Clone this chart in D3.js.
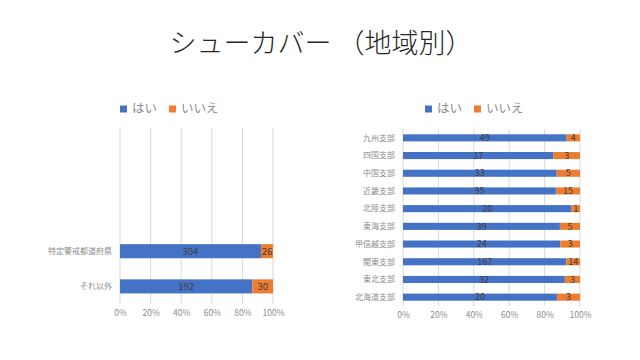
<!DOCTYPE html>
<html><head><meta charset="utf-8">
<script src="https://cdn.jsdelivr.net/npm/d3@7"></script>
<style>
body{margin:0;background:#fff;}
text{font-family:"Noto Sans CJK JP","Noto Sans",sans-serif;}
</style></head>
<body><svg id="c" width="640" height="360"></svg>
<script>
const title = "シューカバー （地域別）";
const seriesNames = ["はい", "いいえ"];
const colors = ["#4472C4", "#ED7D31"];
const leftSlots = ["_a", "_b", "_c", "特定警戒都道府県", "それ以外"];
const leftCats = ["特定警戒都道府県", "それ以外"];
const leftYes = [304, 192];
const leftNo = [26, 30];
const rightCats = ["九州支部","四国支部","中国支部","近畿支部","北陸支部","東海支部","甲信越支部","関東支部","東北支部","北海道支部"];
const rightYes = [49, 17, 33, 95, 20, 39, 24, 167, 32, 20];
const rightNo = [4, 3, 5, 15, 1, 5, 3, 14, 3, 3];
const tickVals = [0, 0.2, 0.4, 0.6, 0.8, 1.0];

const svg = d3.select("#c");
svg.append("rect").attr("width",640).attr("height",360).attr("fill","#fff");
svg.append("text").attr("x",321).attr("y",53).attr("text-anchor","middle")
  .attr("font-size",27).attr("font-weight",300).attr("fill","#262626").text(title);

function chart(cfg){
  const g = svg.append("g");
  const x = d3.scaleLinear().domain([0,1]).range([cfg.x0, cfg.x1]);
  const y = d3.scaleBand().domain(cfg.slots).range([cfg.y0, cfg.y1]).paddingInner(0.6).paddingOuter(0.3);
  g.selectAll("line.grid").data(tickVals).join("line")
    .attr("x1",d=>x(d)).attr("x2",d=>x(d)).attr("y1",cfg.y0).attr("y2",cfg.y1)
    .attr("stroke","#d9d9d9").attr("stroke-width",1);
  const ax = g.append("g").attr("transform",`translate(0,${cfg.y1})`)
    .call(d3.axisBottom(x).tickValues(tickVals).tickFormat(d3.format(".0%")).tickSize(0).tickPadding(6));
  ax.select(".domain").remove();
  ax.selectAll("text").attr("font-size",8.5).attr("fill","#8c8c8c").attr("font-family","'Noto Sans CJK JP',sans-serif");
  const data = cfg.cats.map((c,i)=>({c, yes:cfg.yes[i], no:cfg.no[i], t:cfg.yes[i]+cfg.no[i]}));
  data.forEach(d=>{
    const segs = [{v:d.yes, s:0, e:d.yes/d.t, k:0},{v:d.no, s:d.yes/d.t, e:1, k:1}];
    segs.forEach(s=>{
      g.append("rect").attr("x",x(s.s)).attr("y",y(d.c)).attr("width",x(s.e)-x(s.s)).attr("height",y.bandwidth())
        .attr("fill",colors[s.k]);
      g.append("text").attr("x",(x(s.s)+x(s.e))/2).attr("y",y(d.c)+y.bandwidth()/2)
        .attr("dy","0.35em").attr("text-anchor","middle").attr("font-size",cfg.lfs).attr("fill","#404040").text(s.v);
    });
    g.append("text").attr("x",cfg.x0-8).attr("y",y(d.c)+y.bandwidth()/2).attr("dy","0.35em")
      .attr("text-anchor","end").attr("font-size",8).attr("fill","#8c8c8c").text(d.c);
  });
  const lg = g.append("g");
  let lx = cfg.legX;
  seriesNames.forEach((n,i)=>{
    lg.append("rect").attr("x",lx).attr("y",cfg.legY-3.5).attr("width",7).attr("height",7).attr("fill",colors[i]);
    const t = lg.append("text").attr("x",lx+12).attr("y",cfg.legY).attr("dy","0.35em")
      .attr("font-size",12.5).attr("fill","#8c8c8c").text(n);
    lx += 12 + t.node().getComputedTextLength() + 12;
  });
}

chart({slots:leftSlots, cats:leftCats, yes:leftYes, no:leftNo, x0:120, x1:273, y0:128, y1:304, lfs:9.5, legX:120, legY:109});
chart({slots:rightCats, cats:rightCats, yes:rightYes, no:rightNo, x0:403, x1:580, y0:129, y1:306, lfs:9, legX:425, legY:109});
</script></body></html>
